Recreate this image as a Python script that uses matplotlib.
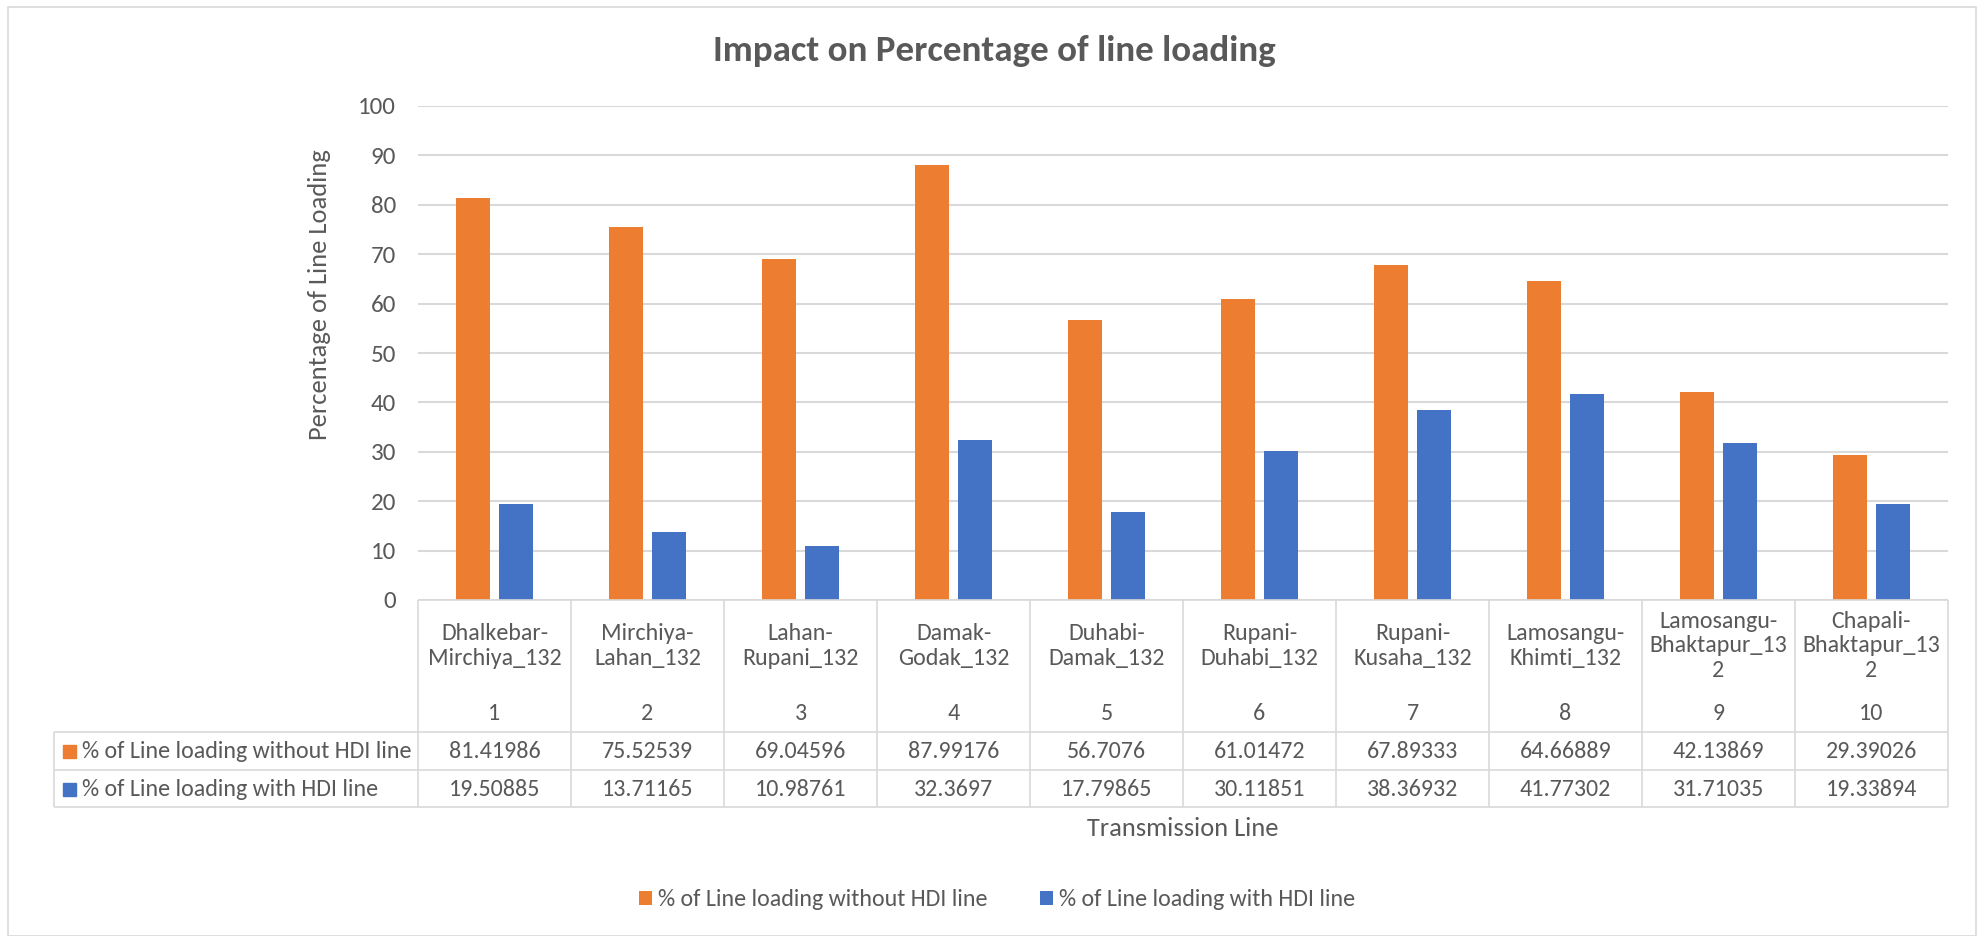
import matplotlib

matplotlib.use("Agg")

import matplotlib.pyplot as plt
import numpy as np
from matplotlib import font_manager
from matplotlib.patches import Rectangle
from matplotlib.transforms import blended_transform_factory

# Transmission lines (category labels wrap the way the table cells show them)
line_names = [
    "Dhalkebar-\nMirchiya_132",
    "Mirchiya-\nLahan_132",
    "Lahan-\nRupani_132",
    "Damak-\nGodak_132",
    "Duhabi-\nDamak_132",
    "Rupani-\nDuhabi_132",
    "Rupani-\nKusaha_132",
    "Lamosangu-\nKhimti_132",
    "Lamosangu-\nBhaktapur_13\n2",
    "Chapali-\nBhaktapur_13\n2",
]
line_ids = [1, 2, 3, 4, 5, 6, 7, 8, 9, 10]

loading_without_hdi = [81.41986, 75.52539, 69.04596, 87.99176, 56.7076,
                       61.01472, 67.89333, 64.66889, 42.13869, 29.39026]
loading_with_hdi = [19.50885, 13.71165, 10.98761, 32.3697, 17.79865,
                    30.11851, 38.36932, 41.77302, 31.71035, 19.33894]

series_labels = ["% of Line loading without HDI line",
                 "% of Line loading with HDI line"]

ORANGE = "#ED7D31"
BLUE = "#4472C4"
TEXT = "#595959"
GRID = "#D9D9D9"

W, H = 1984, 936
DPI = 100

TICK_PX = 25
TABLE_PX = 24
AXTITLE_PX = 26.5
TITLE_PX = 37


def px(v):
    """Pixel size -> points at the figure dpi."""
    return v * 72.0 / DPI


available = {f.name for f in font_manager.fontManager.ttflist}
for name in ("Carlito", "Lato", "DejaVu Sans"):
    if name in available:
        FONT = name
        break
plt.rcParams["font.family"] = [FONT, "DejaVu Sans"]

fig = plt.figure(figsize=(W / DPI, H / DPI), dpi=DPI)
fig.patch.set_facecolor("white")

# outer chart frame
fig.add_artist(Rectangle((8 / W, 0), (1976 - 8) / W, 1 - 7 / H,
                         transform=fig.transFigure, fill=False,
                         edgecolor=GRID, lw=1.2))

# plot area: x from 418 to 1948 px, y from 106 (100) to 600 (0)
left, right, top, bottom = 418, 1948, 106, 600
ax = fig.add_axes([left / W, 1 - bottom / H, (right - left) / W, (bottom - top) / H])

x = np.arange(len(line_names))
bar_w = 0.222
offset = 0.14
ax.bar(x - offset, loading_without_hdi, bar_w, color=ORANGE, label=series_labels[0], zorder=3)
ax.bar(x + offset, loading_with_hdi, bar_w, color=BLUE, label=series_labels[1], zorder=3)

ax.set_xlim(-0.5, len(line_names) - 0.5)
ax.set_ylim(0, 100)
ax.set_yticks(np.arange(0, 101, 10))
ax.yaxis.grid(True, color=GRID, lw=1.5, zorder=0)
ax.set_axisbelow(True)
for side in ("left", "right", "top", "bottom"):
    ax.spines[side].set_visible(False)
ax.set_xticks([])
ax.tick_params(axis="y", length=0, labelsize=px(TICK_PX), labelcolor=TEXT, pad=px(22))
ax.set_ylabel("Percentage of Line Loading", fontsize=px(AXTITLE_PX), color=TEXT)
ax.yaxis.set_label_coords(-(left - 331) / (right - left), (600 - 295) / (bottom - top))

fig.text(994 / W, 1 - 51 / H, "Impact on Percentage of line loading",
         ha="center", va="center", fontsize=px(TITLE_PX), fontweight="bold", color=TEXT)

# data table under the plot: x in data units, y in figure pixels
tr = blended_transform_factory(ax.transData, fig.transFigure)
fy = lambda v: 1 - v / H
tbl_left_fig = 54 / W
row_top, row_mid, row_low, row_end = 600, 732, 770, 807
lkw = dict(color=GRID, lw=1.2, solid_capstyle="butt")

n = len(line_names)
for b in np.arange(n + 1) - 0.5:
    fig.add_artist(plt.Line2D([b, b], [fy(row_top), fy(row_end)], transform=tr, **lkw))
fig.add_artist(plt.Line2D([-0.5, n - 0.5], [fy(row_top)] * 2, transform=tr, **lkw))
for yy in (row_mid, row_low, row_end):
    fig.add_artist(plt.Line2D([tbl_left_fig, right / W], [fy(yy)] * 2,
                              transform=fig.transFigure, **lkw))
fig.add_artist(plt.Line2D([tbl_left_fig] * 2, [fy(row_mid), fy(row_end)],
                          transform=fig.transFigure, **lkw))

tkw = dict(ha="center", va="center", fontsize=px(TABLE_PX), color=TEXT, transform=tr)
for i, (name, num) in enumerate(zip(line_names, line_ids)):
    fig.text(i, fy(646), name, linespacing=1.18, **tkw)
    fig.text(i, fy(713), str(num), **tkw)
    fig.text(i, fy(751), str(loading_without_hdi[i]), **tkw)
    fig.text(i, fy(789), str(loading_with_hdi[i]), **tkw)

for yc, col, lab in ((751, ORANGE, series_labels[0]), (789, BLUE, series_labels[1])):
    fig.add_artist(Rectangle((63 / W, fy(yc + 6.5)), 13 / W, 13 / H,
                             transform=fig.transFigure, color=col))
    fig.text(82 / W, fy(yc), lab, ha="left", va="center",
             fontsize=px(TABLE_PX), color=TEXT)

fig.text((left + right) / 2 / W, fy(828), "Transmission Line", ha="center",
         va="center", fontsize=px(AXTITLE_PX), color=TEXT)

handles, labels = ax.get_legend_handles_labels()
leg = fig.legend(handles, labels, loc="center", bbox_to_anchor=(997 / W, fy(900)),
                 ncol=2, frameon=False, fontsize=px(TABLE_PX), handlelength=0.55,
                 handleheight=0.55, handletextpad=0.25, columnspacing=2.2)
for t in leg.get_texts():
    t.set_color(TEXT)

fig.savefig("out.png", dpi=DPI, facecolor="white")
